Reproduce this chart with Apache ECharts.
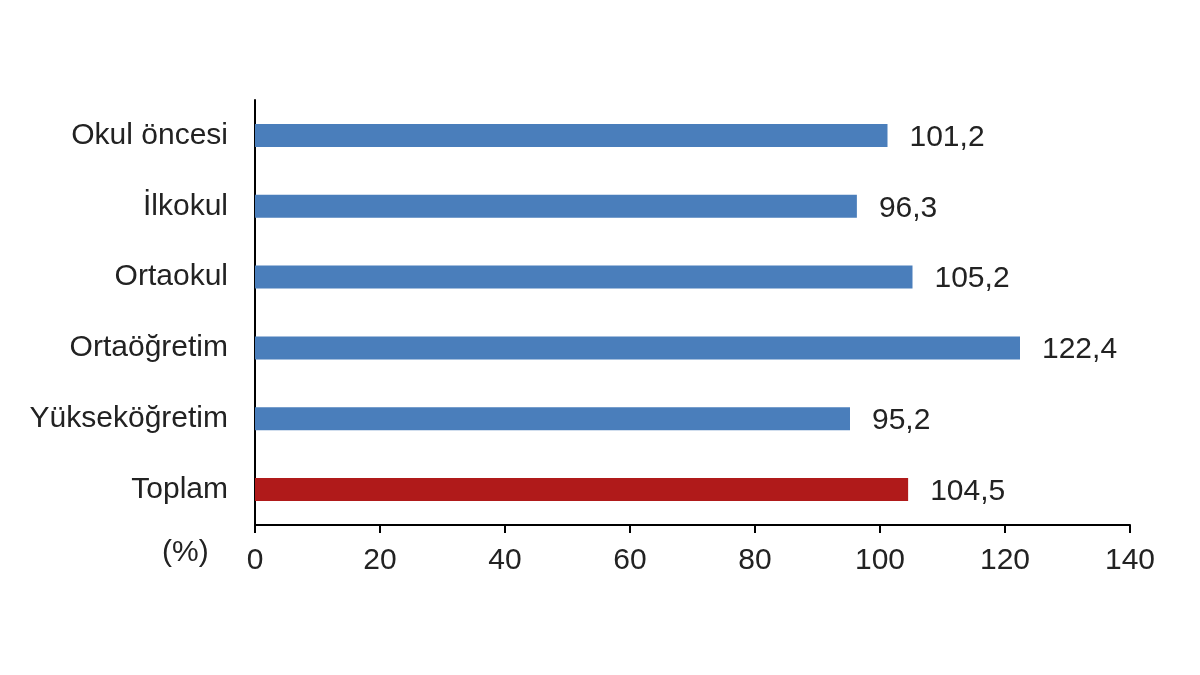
<!DOCTYPE html>
<html>
<head>
<meta charset="utf-8">
<script src="https://cdn.jsdelivr.net/npm/echarts@6/dist/echarts.min.js"></script>
<style>html,body{margin:0;padding:0;background:#fff}#c{width:1200px;height:675px}</style>
</head>
<body>
<div id="c"></div>
<script>
const categories = ['Okul öncesi', 'İlkokul', 'Ortaokul', 'Ortaöğretim', 'Yükseköğretim', 'Toplam'];
const values = [101.2, 96.3, 105.2, 122.4, 95.2, 104.5];
const barColors = ['#4a7ebb', '#4a7ebb', '#4a7ebb', '#4a7ebb', '#4a7ebb', '#b01a1a'];
const xTicks = [0, 20, 40, 60, 80, 100, 120, 140];

const chart = echarts.init(document.getElementById('c'));
const font = '"Liberation Sans", Arial, sans-serif';
chart.setOption({
  animation: false,
  grid: { left: 255, right: 70, top: 100, bottom: 150, containLabel: false },
  xAxis: {
    type: 'value', min: xTicks[0], max: xTicks[xTicks.length - 1], interval: 20,
    axisLine: { show: true, lineStyle: { color: '#000', width: 2 } },
    axisTick: { show: true, length: 8, lineStyle: { color: '#000', width: 2 } },
    axisLabel: { color: '#222', fontSize: 30, fontFamily: font, margin: 21 },
    splitLine: { show: false }
  },
  yAxis: {
    type: 'category', inverse: true, data: categories,
    axisLine: { show: true, lineStyle: { color: '#000', width: 2 } },
    axisTick: { show: false },
    axisLabel: { color: '#222', fontSize: 30, fontFamily: font, margin: 27, padding: [5, 0, 0, 0] }
  },
  series: [{
    type: 'bar', barWidth: 23,
    data: values.map((v, i) => ({ value: v, itemStyle: { color: barColors[i] } })),
    label: {
      show: true, position: 'right', distance: 22, color: '#222', fontSize: 30, fontFamily: font,
      offset: [0, 2],
      formatter: p => p.value.toFixed(1).replace('.', ',')
    }
  }],
  graphic: [{
    type: 'text', left: 162, top: 538,
    style: { text: '(%)', fill: '#222', fontSize: 30, fontFamily: font }
  }]
});
</script>
</body>
</html>
